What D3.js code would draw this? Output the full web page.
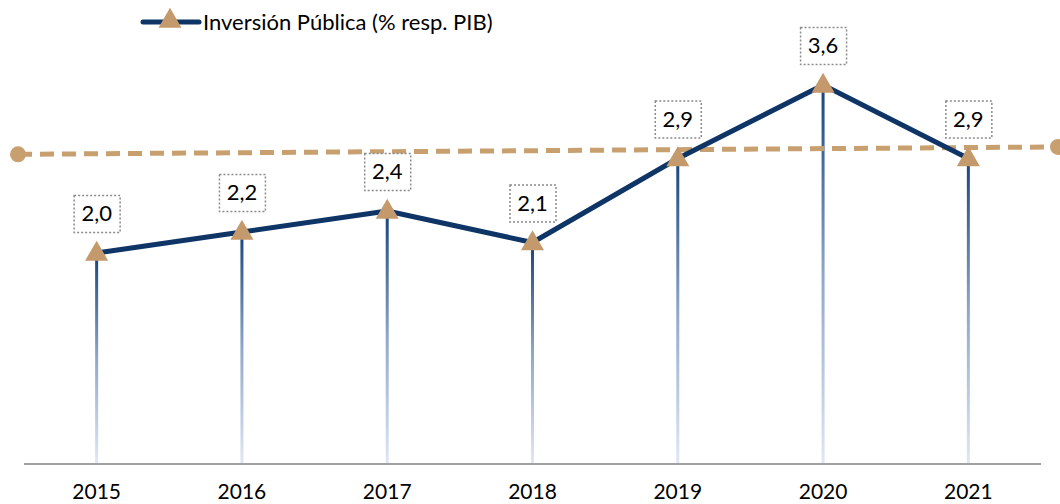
<!DOCTYPE html>
<html><head><meta charset="utf-8">
<script src="https://cdn.jsdelivr.net/npm/d3@7"></script>
<style>body{margin:0;background:#fff}svg{display:block}text{font-family:"Lato","Open Sans",sans-serif}</style>
</head><body><svg id="c" width="1060" height="504"></svg>
<script>
const years = ["2015","2016","2017","2018","2019","2020","2021"];
const inversion = [2.0, 2.2, 2.4, 2.1, 2.9, 3.6, 2.9];
const labels = ["2,0","2,2","2,4","2,1","2,9","3,6","2,9"];
const trendStart = 2.94, trendEnd = 3.01;
const seriesName = "Inversión Pública (% resp. PIB)";

const svg = d3.select("#c");
const x = d3.scaleBand().domain(years).range([24, 1041]);
const cx = d => x(d) + x.bandwidth()/2;
const y = d3.scaleLinear().domain([0, 4]).range([463, 43]);
const tx = d3.scaleLinear().domain([0,1]).range([18, 1058]);

const defs = svg.append("defs");
const g = defs.append("linearGradient").attr("id","drop").attr("x1",0).attr("y1",0).attr("x2",0).attr("y2",1);
g.append("stop").attr("offset","0%").attr("stop-color","#16437a");
g.append("stop").attr("offset","50%").attr("stop-color","#8ea7c9");
g.append("stop").attr("offset","100%").attr("stop-color","#dfe7f5");

// drop lines
years.forEach((yr,i)=>{
  svg.append("rect").attr("x", cx(yr)-1.5).attr("y", y(inversion[i]))
    .attr("width",3).attr("height", y(0)-y(inversion[i])).attr("fill","url(#drop)");
});

// axis
svg.append("line").attr("x1",24).attr("x2",1041).attr("y1",464).attr("y2",464)
  .attr("stroke","#a0a0a0").attr("stroke-width",2);
const ax = svg.append("g").attr("transform","translate(0,464)")
  .call(d3.axisBottom(x).tickSize(0).tickPadding(20));
ax.select(".domain").remove();
ax.selectAll("text").attr("font-size",21).attr("fill","#000").style("font-family","Lato, 'Open Sans', sans-serif").attr("dy","0.72em");

// trend dashed
svg.append("line").attr("x1",tx(0)).attr("x2",tx(1)).attr("y1",y(trendStart)).attr("y2",y(trendEnd))
  .attr("stroke","#c8a070").attr("stroke-width",5).attr("stroke-dasharray","14 8");
svg.append("circle").attr("cx",tx(0)).attr("cy",y(trendStart)).attr("r",8).attr("fill","#c8a070");
svg.append("circle").attr("cx",tx(1)).attr("cy",y(trendEnd)).attr("r",8).attr("fill","#c8a070");

// main line
const line = d3.line().x((d,i)=>cx(years[i])).y(d=>y(d));
svg.append("path").datum(inversion).attr("d",line).attr("fill","none")
  .attr("stroke","#0e3566").attr("stroke-width",5).attr("stroke-linejoin","round");

const tri = d3.symbol().type(d3.symbolTriangle).size(230);
years.forEach((yr,i)=>{
  svg.append("path").attr("d",tri()).attr("transform",`translate(${cx(yr)},${y(inversion[i])+1})`).attr("fill","#c49a6c");
  svg.append("rect").attr("x",cx(yr)-23+0.5).attr("y",y(inversion[i])-58+0.5).attr("width",46).attr("height",37)
    .attr("fill","#fff").attr("stroke","#8a8a8a").attr("stroke-width",1.5).attr("stroke-dasharray","2 2");
  svg.append("text").attr("x",cx(yr)).attr("y",y(inversion[i])-32).attr("text-anchor","middle")
    .attr("font-size",22).attr("fill","#000").text(labels[i]);
});

// legend
svg.append("line").attr("x1",143).attr("x2",199).attr("y1",22).attr("y2",22).attr("stroke","#0e3566").attr("stroke-width",5).attr("stroke-linecap","round");
svg.append("path").attr("d",tri()).attr("transform","translate(170,21)").attr("fill","#c49a6c");
svg.append("text").attr("x",203).attr("y",30).attr("font-size",22).attr("fill","#000").text(seriesName);
</script></body></html>
